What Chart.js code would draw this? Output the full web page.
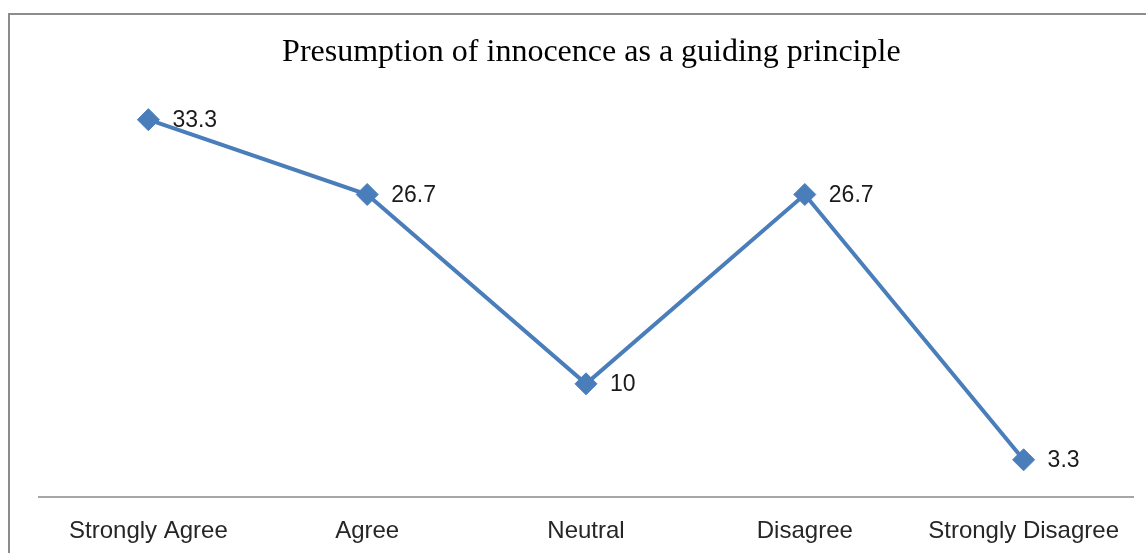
<!DOCTYPE html>
<html>
<head>
<meta charset="utf-8">
<script src="https://cdn.jsdelivr.net/npm/chart.js@4/dist/chart.umd.min.js"></script>
<style>
  html, body { margin: 0; padding: 0; background: #fff; overflow: hidden; }
  #wrap { position: relative; width: 1146px; height: 553px; }
  #frame { position: absolute; left: 8px; top: 13px; width: 1160px; height: 560px; border: 2px solid #8c8c8c; box-sizing: border-box; }
  canvas { position: absolute; left: 0; top: 0; }
</style>
</head>
<body>
<div id="wrap">
  <div id="frame"></div>
  <canvas id="chart" width="1146" height="553"></canvas>
</div>
<script>
'use strict';

// categories and values
const categories = ['Strongly Agree', 'Agree', 'Neutral', 'Disagree', 'Strongly Disagree'];
const percentValues = [33.3, 26.7, 10, 26.7, 3.3];
const valueLabels = ['33.3', '26.7', '10', '26.7', '3.3'];

const LINE_COLOR = '#4a7ebb';

// data labels to the right of each point
const pointLabels = {
  id: 'pointLabels',
  afterDatasetsDraw(chart) {
    const ctx = chart.ctx;
    const meta = chart.getDatasetMeta(0);
    ctx.save();
    ctx.font = '23px "Liberation Sans", Arial, sans-serif';
    ctx.fillStyle = '#1a1a1a';
    ctx.textAlign = 'left';
    ctx.textBaseline = 'middle';
    meta.data.forEach((pt, i) => {
      ctx.fillText(valueLabels[i], pt.x + 24, pt.y + 1);
    });
    ctx.restore();
  }
};

new Chart(document.getElementById('chart'), {
  type: 'line',
  data: {
    labels: categories,
    datasets: [{
      data: percentValues,
      borderColor: LINE_COLOR,
      backgroundColor: LINE_COLOR,
      borderWidth: 4,
      pointStyle: 'rectRot',
      pointRadius: 11,
      pointBorderWidth: 1,
      pointBorderColor: LINE_COLOR,
      pointBackgroundColor: LINE_COLOR,
      tension: 0,
      clip: false
    }]
  },
  options: {
    responsive: false,
    animation: false,
    layout: { padding: { left: 39, right: 13, top: 20, bottom: -13 } },
    plugins: {
      legend: { display: false },
      tooltip: { enabled: false },
      title: {
        display: true,
        // leading space nudges the centred title slightly right, as in the original
        text: '\u2004Presumption of innocence as a guiding principle',
        color: '#000',
        font: { family: '"Liberation Serif", "Times New Roman", serif', size: 32, weight: 'normal' },
        padding: { top: 13, bottom: 29 }
      }
    },
    scales: {
      x: {
        offset: true,
        grid: { display: false, drawTicks: false },
        border: { display: true, color: '#a6a6a6', width: 2 },
        ticks: {
          color: '#262626',
          padding: 20,
          maxRotation: 0,
          font: { family: '"Liberation Sans", Arial, sans-serif', size: 24 }
        }
      },
      y: {
        display: false,
        min: 0,
        max: 35
      }
    }
  },
  plugins: [pointLabels]
});
</script>
</body>
</html>
